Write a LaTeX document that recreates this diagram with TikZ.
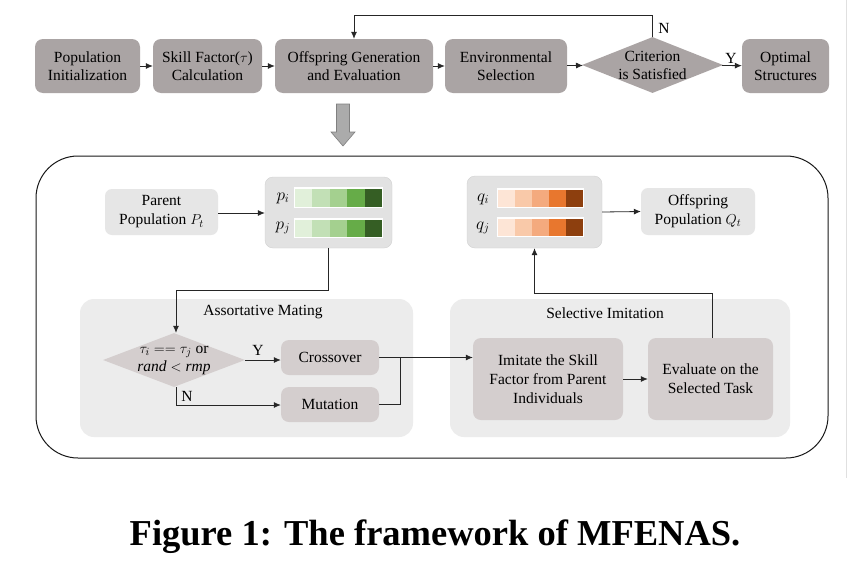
\documentclass[tikz,border=0pt]{standalone}
\usepackage{fontspec}
\setmainfont{Liberation Serif}
\usetikzlibrary{shapes.geometric,arrows.meta,calc}
\definecolor{topgray}{RGB}{170,164,164}
\definecolor{innergray}{RGB}{212,206,206}
\definecolor{panelgray}{RGB}{236,236,236}
\definecolor{lightbox}{RGB}{230,230,230}
\definecolor{barbox}{RGB}{226,226,226}
\definecolor{gA}{RGB}{225,240,218}
\definecolor{gB}{RGB}{194,224,182}
\definecolor{gC}{RGB}{164,208,143}
\definecolor{gD}{RGB}{102,172,72}
\definecolor{gE}{RGB}{53,94,36}
\definecolor{oA}{RGB}{253,229,214}
\definecolor{oB}{RGB}{249,201,169}
\definecolor{oC}{RGB}{244,170,126}
\definecolor{oD}{RGB}{232,119,46}
\definecolor{oE}{RGB}{141,63,14}
\tikzset{
  topbox/.style={draw=none, fill=topgray, rounded corners=8pt, align=center, font=\fontsize{15.5}{18}\selectfont, inner sep=0pt},
  inbox/.style={draw=none, fill=innergray, rounded corners=8pt, align=center, font=\fontsize{15.5}{19}\selectfont, inner sep=0pt},
  litebox/.style={draw=none, fill=lightbox, rounded corners=7pt, align=center, font=\fontsize{15.5}{19}\selectfont, inner sep=0pt},
  panel/.style={draw=none, fill=panelgray, rounded corners=14pt, inner sep=0pt},
  barholder/.style={draw=black!18, fill=barbox, rounded corners=8pt, inner sep=0pt},
  conn/.style={draw=black!85, line width=0.8pt},
  arr/.style={conn, -{Latex[length=7pt,width=6pt]}},
  lbl/.style={font=\fontsize{15.5}{18}\selectfont, inner sep=0pt},
  mlbl/.style={font=\fontsize{17}{18}\selectfont, inner sep=0pt},
  dia/.style={diamond, draw=none, inner sep=0pt},
}
\begin{document}
\begin{tikzpicture}[x=1pt,y=-1pt]
\useasboundingbox (0,0) rectangle (859,565);
\fill[white] (0,0) rectangle (859,565);
\draw[black!12, line width=0.8pt] (846,0) -- (846,478);

% top row
\node[topbox, minimum width=105, minimum height=54] (b1) at (87.5,66) {Population\\Initialization};
\node[topbox, minimum width=109, minimum height=54] (b2) at (207.5,66) {Skill Factor($\tau$)\\Calculation};
\node[topbox, minimum width=158, minimum height=54] (b3) at (354,66) {Offspring Generation\\and Evaluation};
\node[topbox, minimum width=122, minimum height=54] (b4) at (506,66) {Environmental\\Selection};
\node[dia, fill=topgray, minimum width=141, minimum height=56] (d1) at (652.5,65) {};
\node[lbl, align=center] (d1t) at (d1.center) {Criterion\\is Satisfied};
\node[topbox, minimum width=87, minimum height=54] (b5) at (785.5,66) {Optimal\\Structures};

\draw[arr] (b1) -- (b2);
\draw[arr] (b2) -- (b3);
\draw[arr] (b3) -- (b4);
\draw[arr] (b4) -- (d1);
\draw[arr] (d1) -- (b5);
\coordinate (fb1) at (652.5,15);
\coordinate (fb2) at (354,15);
\draw[arr] (d1.north) -- (fb1) -- (fb2) -- (b3.north);
\node[lbl] (nlab) at (664,28) {N};
\node[lbl] (ylab) at (731,58) {Y};

% big arrow
\draw[fill=black!33, draw=black!50, line width=0.6pt]
  (336.5,104) -- (349.5,104) -- (349.5,132) -- (355,132) -- (343,146) -- (331,132) -- (336.5,132) -- cycle;

% big panel
\draw[black!90, line width=1pt, rounded corners=42pt] (36,156) rectangle (828,458);

% panels
\node[panel, minimum width=333, minimum height=138] (am) at (246.5,368) {};
\node[panel, minimum width=340, minimum height=138] (si) at (620,368) {};
\node[lbl] (amt) at (263,312) {Assortative Mating};
\node[lbl] (sit) at (605,313) {Selective Imitation};

% parent and p
\node[litebox, minimum width=113, minimum height=46] (par) at (161.5,212) {Parent\\Population $P_t$};
\node[barholder, minimum width=127, minimum height=71] (pb) at (328.5,212.5) {};
\fill[white] (294,187) rectangle (383,208);
\fill[white] (294,218) rectangle (383,238);
\foreach \c [count=\i from 0] in {gA,gB,gC,gD,gE}{
  \fill[\c] ({295+\i*17.4},188.5) rectangle ({295+(\i+1)*17.4},206.5);
  \fill[\c] ({295+\i*17.4},219.5) rectangle ({295+(\i+1)*17.4},236.5);
}
\node[mlbl] (pil) at (283,198) {$p_i$};
\node[mlbl] (pjl) at (283,228) {$p_j$};

% q and offspring
\node[barholder, minimum width=135, minimum height=72] (qb) at (534.5,212) {};
\fill[white] (497,188) rectangle (584,208);
\fill[white] (497,217) rectangle (584,237);
\foreach \c [count=\i from 0] in {oA,oB,oC,oD,oE}{
  \fill[\c] ({498+\i*17},189.5) rectangle ({498+(\i+1)*17},206.5);
  \fill[\c] ({498+\i*17},218.5) rectangle ({498+(\i+1)*17},235.5);
}
\node[mlbl] (qil) at (483,199) {$q_i$};
\node[mlbl] (qjl) at (483,228) {$q_j$};
\node[litebox, minimum width=114, minimum height=47] (off) at (698,211.5) {Offspring\\Population $Q_t$};

\draw[arr] (par.east |- 0,213) -- (pb.west |- 0,213);
\draw[arr] (qb.east) -- (off.west);

% assortative mating
\node[dia, fill=innergray, minimum width=142, minimum height=54] (d2) at (174,360) {};
\node[lbl, align=center] (d2t) at (d2.center) {$\tau_i == \tau_j$ or\\$\mathit{rand} < \mathit{rmp}$};
\node[inbox, minimum width=98, minimum height=35] (cro) at (330,357.5) {Crossover};
\node[inbox, minimum width=98, minimum height=35] (mut) at (330,404.5) {Mutation};

\coordinate (t1) at (328.5,290);
\coordinate (t2) at (176,290);
\draw[arr] (pb.south -| t1) -- (t1) -- (t2) -- (t2 |- d2.north);
\draw[arr] (d2.east) -- (cro.west |- d2.east);
\coordinate (n1) at (176,405);
\draw[arr] (n1 |- d2.south) -- (n1) -- (mut.west |- n1);
\node[lbl] (ylab2) at (258,350) {Y};
\node[lbl] (nlab2) at (187,396) {N};

% selective imitation
\node[inbox, minimum width=150, minimum height=82] (imi) at (548,379) {Imitate the Skill\\Factor from Parent\\Individuals};
\node[inbox, minimum width=125, minimum height=82] (eva) at (710.5,379) {Evaluate on the\\Selected Task};

\coordinate (j) at (400,404.5);
\draw[conn] (mut.east) -- (j) -- (j |- cro.east);
\draw[arr] (cro.east) -- (imi.west |- cro.east);
\draw[arr] (imi) -- (eva);
\coordinate (u1) at (712,293);
\coordinate (u2) at (534.5,293);
\draw[arr] (eva.north -| u1) -- (u1) -- (u2) -- (qb.south);

% caption
\node[font=\fontsize{36.5}{40}\selectfont\bfseries, inner sep=0pt] (cap) at (435,537) {Figure 1: The framework of MFENAS.};
\end{tikzpicture}
\end{document}
